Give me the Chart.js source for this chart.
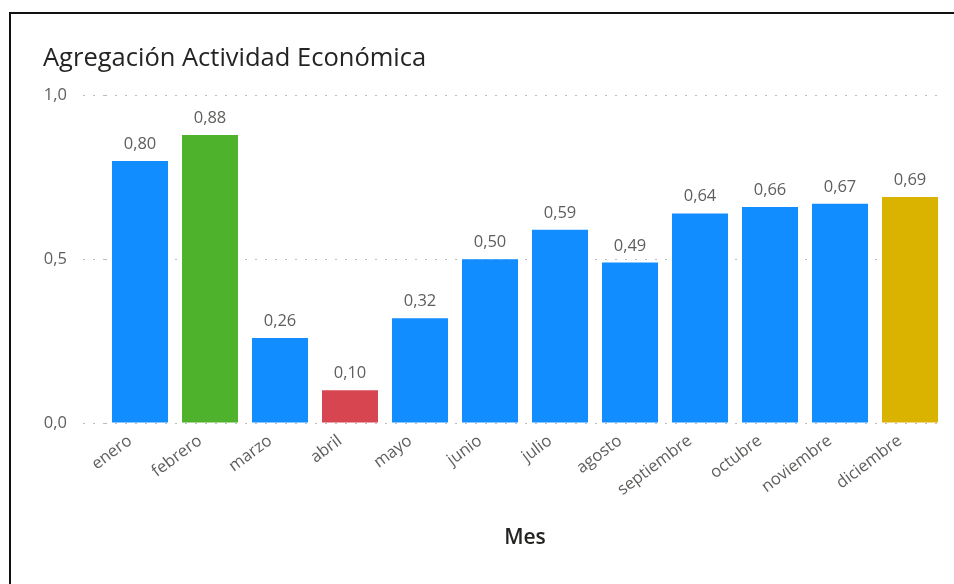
<!DOCTYPE html>
<html lang="es">
<head>
<meta charset="utf-8">
<title>Agregación Actividad Económica</title>
<script src="https://cdn.jsdelivr.net/npm/chart.js@4.4.1/dist/chart.umd.min.js"></script>
<style>
  html, body { margin: 0; padding: 0; background: #fff; }
  #wrap { position: relative; width: 954px; height: 584px; overflow: hidden; }
  #frame {
    position: absolute; left: 9px; top: 12px; width: 960px; height: 600px;
    border-left: 2px solid #111; border-top: 2px solid #111;
    pointer-events: none; box-sizing: border-box;
  }
  canvas { display: block; }
</style>
</head>
<body>
<div id="wrap">
  <canvas id="chart" width="954" height="584"></canvas>
  <div id="frame"></div>
</div>
<script>
// Monthly values of the activity aggregate
const months = ['enero', 'febrero', 'marzo', 'abril', 'mayo', 'junio', 'julio',
                'agosto', 'septiembre', 'octubre', 'noviembre', 'diciembre'];
const values = [0.80, 0.88, 0.26, 0.10, 0.32, 0.50, 0.59, 0.49, 0.64, 0.66, 0.67, 0.69];
const yTicks = [0, 0.5, 1.0];

// Bar colours: default blue, with a few highlighted months
const baseColor = '#118DFF';
const highlight = { febrero: '#4EB22C', abril: '#D64550', diciembre: '#D9B300' };
const barColors = months.map(m => highlight[m] || baseColor);

const fmt = (v, d) => v.toFixed(d).replace('.', ',');
const FONT = '"Open Sans", "Noto Sans", sans-serif';
const gridColor = '#BDBBB9';

// Writes each bar's value above it
const valueLabels = {
  id: 'valueLabels',
  afterDatasetsDraw(chart) {
    const ctx = chart.ctx;
    const meta = chart.getDatasetMeta(0);
    ctx.save();
    ctx.font = '16.5px ' + FONT;
    ctx.fillStyle = '#605E5C';
    ctx.textAlign = 'center';
    ctx.textBaseline = 'alphabetic';
    meta.data.forEach((bar, i) => {
      ctx.fillText(fmt(values[i], 2), bar.x, bar.y - 12);
    });
    ctx.restore();
  }
};

new Chart(document.getElementById('chart'), {
  type: 'bar',
  data: {
    labels: months,
    datasets: [{
      data: values,
      backgroundColor: barColors,
      barPercentage: 0.8,
      categoryPercentage: 1.0
    }]
  },
  options: {
    responsive: false,
    animation: false,
    events: [],
    layout: { padding: { left: 43, right: 9, top: 0, bottom: 0 } },
    plugins: {
      legend: { display: false },
      tooltip: { enabled: false },
      title: {
        display: true,
        text: 'Agregación Actividad Económica',
        align: 'start',
        color: '#252423',
        font: { family: FONT, size: 25.5, weight: 'normal', lineHeight: 1.2 },
        padding: { top: 43, bottom: 22 }
      }
    },
    scales: {
      x: {
        grid: { display: false, drawTicks: false },
        border: { display: false },
        ticks: {
          color: '#605E5C',
          font: { family: FONT, size: 16.5 },
          minRotation: 37,
          maxRotation: 37,
          autoSkip: false,
          labelOffset: -10,
          padding: 8
        },
        title: {
          display: true,
          text: 'Mes',
          color: '#252423',
          font: { family: FONT, size: 21, weight: '600' },
          padding: { top: 0, bottom: 33 }
        },
        afterFit(scale) { scale.height = 161; }
      },
      y: {
        min: 0,
        max: 1,
        afterBuildTicks(scale) { scale.ticks = yTicks.map(v => ({ value: v })); },
        ticks: {
          color: '#605E5C',
          font: { family: FONT, size: 16.5 },
          padding: 16,
          callback: v => fmt(v, 1)
        },
        grid: {
          color: gridColor,
          lineWidth: 1,
          tickLength: 22,
          tickColor: gridColor,
          tickBorderDash: [2, 8]
        },
        border: { display: false, dash: [2, 8] },
        afterFit(scale) { scale.width = 62; }
      }
    }
  },
  plugins: [valueLabels]
});
</script>
</body>
</html>
